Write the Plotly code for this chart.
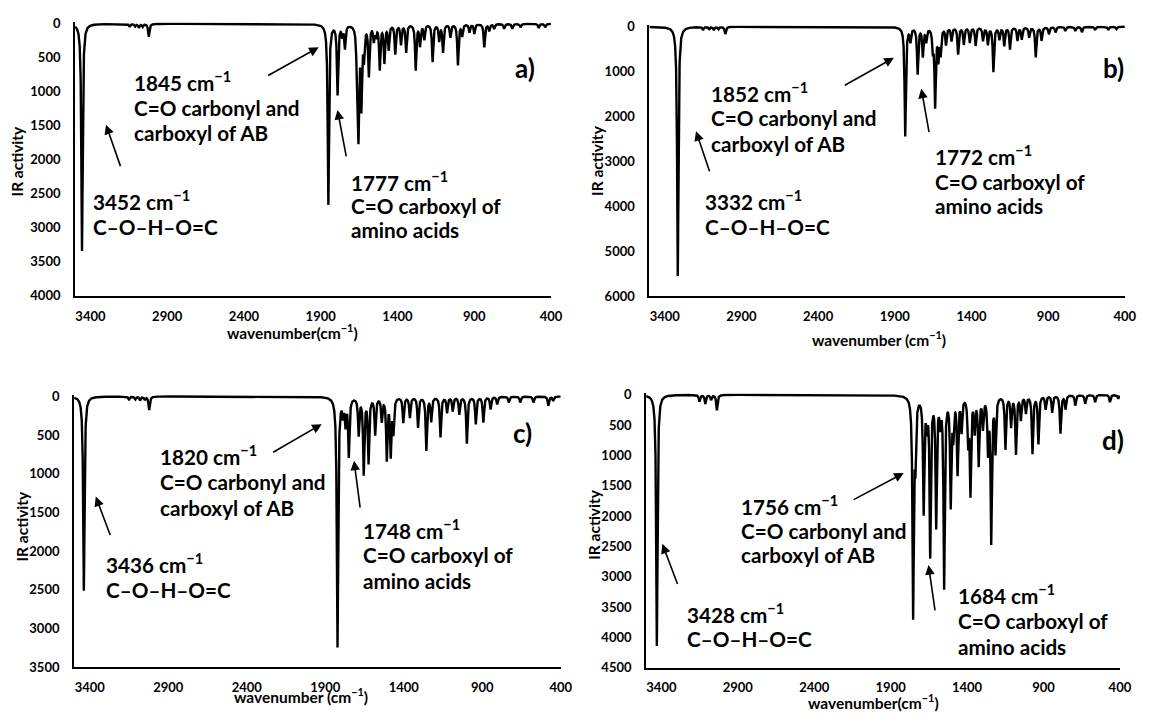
import numpy as np
import plotly.graph_objects as go

# page body has an 8 px margin: design coordinates are reference pixels, shifted by OFF
W, H = 1143, 709
OFF = 8.0

# ---------------- data ----------------
x_tick_vals = [3400, 2900, 2400, 1900, 1400, 900, 400]

a_peak_wn = [3455, 3145, 3110, 3085, 3060, 3020, 1850, 1790, 1760, 1742, 1665, 1654, 1635,
             1618, 1586, 1554, 1540, 1515, 1485, 1457, 1414, 1377, 1343, 1281, 1253, 1225,
             1171, 1128, 1103, 1055, 1006, 978, 931, 899, 834, 802, 770, 705, 652, 598, 480, 437]
a_peak_int = [3340, 45, 35, 55, 40, 190, 2650, 1020, 150, 340, 430, 1600, 1150,
              450, 740, 220, 150, 650, 550, 360, 430, 290, 410, 670, 310, 220,
              550, 240, 410, 190, 600, 170, 120, 140, 340, 100, 70, 70, 70, 50, 60, 50]
a_y_ticks = [0, 500, 1000, 1500, 2000, 2500, 3000, 3500, 4000]

b_peak_wn = [3315, 3150, 3110, 3080, 3050, 3005, 1832, 1798, 1751, 1717, 1695, 1652, 1637,
             1616, 1601, 1566, 1530, 1487, 1450, 1411, 1373, 1325, 1293, 1257, 1218, 1186,
             1149, 1100, 1072, 1024, 981, 943, 895, 852, 788, 723, 680, 594, 508, 455]
b_peak_int = [5550, 60, 50, 70, 50, 160, 2430, 300, 1030, 630, 300, 450, 1720,
              670, 560, 380, 300, 600, 380, 340, 410, 300, 380, 990, 270, 410,
              490, 300, 270, 230, 670, 300, 160, 120, 90, 90, 120, 70, 70, 50]
b_y_ticks = [0, 1000, 2000, 3000, 4000, 5000, 6000]

c_peak_wn = [3438, 3150, 3110, 3080, 3050, 3022, 1822, 1787, 1771, 1750, 1687, 1655, 1624,
             1582, 1540, 1508, 1483, 1466, 1403, 1361, 1309, 1256, 1225, 1166, 1124, 1088,
             1046, 998, 941, 893, 847, 805, 731, 658, 574, 479, 448]
c_peak_int = [2510, 40, 35, 50, 40, 175, 3230, 200, 330, 750, 476, 980, 835,
              476, 300, 793, 729, 434, 329, 265, 392, 687, 308, 518, 202, 181,
              223, 603, 350, 329, 160, 97, 76, 76, 76, 118, 55]
c_y_ticks = [0, 500, 1000, 1500, 2000, 2500, 3000, 3500]

d_peak_wn = [3430, 3151, 3113, 3075, 3037, 1753, 1738, 1684, 1663, 1641, 1602, 1576, 1550,
             1507, 1490, 1462, 1436, 1393, 1378, 1350, 1324, 1296, 1263, 1242, 1214, 1149,
             1112, 1080, 1048, 1015, 972, 933, 886, 843, 789, 756, 692, 627, 562, 465, 411]
d_peak_int = [4140, 110, 145, 80, 253, 3586, 978, 1893, 414, 2592, 2108, 387, 3129,
              1758, 602, 1247, 548, 710, 1570, 548, 1113, 495, 871, 2377, 898, 871,
              495, 952, 387, 280, 952, 790, 226, 280, 629, 226, 172, 145, 118, 118, 65]
d_y_ticks = [0, 500, 1000, 1500, 2000, 2500, 3000, 3500, 4000, 4500]

# ---------------- spectrum broadening ----------------
HWHM = 5.0
grid = np.arange(3500.0, 399.9, -0.5)


def broadened(wn, inten):
    c = np.asarray(wn, float)[:, None]
    s = np.asarray(inten, float)[:, None]
    return (s * HWHM ** 2 / ((grid[None, :] - c) ** 2 + HWHM ** 2)).sum(axis=0)


def PX(x):
    return (x - OFF) / W


def PY(y):
    return 1 - (y - OFF) / H


FONT = "Lato"

panels = [
    dict(wn=a_peak_wn, it=a_peak_int, yt=a_y_ticks, xl=75.8, xr=556.7, yt0=17.0, yb=295.0),
    dict(wn=b_peak_wn, it=b_peak_int, yt=b_y_ticks, xl=656.2, xr=1136.7, yt0=20.0, yb=295.3),
    dict(wn=c_peak_wn, it=c_peak_int, yt=c_y_ticks, xl=74.8, xr=566.6, yt0=397.7, yb=674.3),
    dict(wn=d_peak_wn, it=d_peak_int, yt=d_y_ticks, xl=652.9, xr=1131.7, yt0=396.0, yb=675.0),
]

fig = go.Figure()
layout = dict(width=W, height=H, margin=dict(l=0, r=0, t=0, b=0),
              paper_bgcolor="white", plot_bgcolor="white", showlegend=False)

for i, p in enumerate(panels):
    sfx = "" if i == 0 else str(i + 1)
    ymax = p["yt"][-1]
    upp = ymax / (p["yb"] - p["yt0"])
    fig.add_trace(go.Scatter(x=grid, y=broadened(p["wn"], p["it"]), mode="lines",
                             line=dict(color="black", width=2.4),
                             xaxis="x" + sfx, yaxis="y" + sfx, hoverinfo="skip"))
    layout["xaxis" + sfx] = dict(
        domain=[PX(p["xl"]), PX(p["xr"])], range=[3500, 400], anchor="y" + sfx,
        tickmode="array", tickvals=x_tick_vals, ticks="", showgrid=False, zeroline=False,
        showline=True, linecolor="black", linewidth=2,
        tickfont=dict(family=FONT, size=13, color="black", weight="bold"),
        ticklabelstandoff=7)
    layout["yaxis" + sfx] = dict(
        domain=[PY(p["yb"]), PY(p["yt0"] - 1.5)], range=[ymax, -1.5 * upp], anchor="x" + sfx,
        tickmode="array", tickvals=p["yt"], ticks="", showgrid=False, zeroline=False,
        showline=True, linecolor="black", linewidth=2,
        tickfont=dict(family=FONT, size=13, color="black", weight="bold"),
        ticklabelstandoff=10)

ann = []

text_lines = [
    ("1845 cm<sup>−1</sup>", 133, 75.7), ("C=O carbonyl and", 133, 103), ("carboxyl of AB", 133, 129),
    ("3452 cm<sup>−1</sup>", 92, 198), ("C–O–H–O=C", 92, 225),
    ("1777 cm<sup>−1</sup>", 353, 178), ("C=O carboxyl of", 353, 203), ("amino acids", 353, 228),
    ("1852 cm<sup>−1</sup>", 716.7, 87), ("C=O carbonyl and", 716.7, 113), ("carboxyl of AB", 716.7, 140),
    ("3332 cm<sup>−1</sup>", 710, 198), ("C–O–H–O=C", 710, 225),
    ("1772 cm<sup>−1</sup>", 942.7, 151.7), ("C=O carboxyl of", 942.7, 178.3), ("amino acids", 942.7, 203.3),
    ("1820 cm<sup>−1</sup>", 160, 458.3), ("C=O carbonyl and", 160, 485), ("carboxyl of AB", 160, 511.7),
    ("3436 cm<sup>−1</sup>", 105, 568.3), ("C–O–H–O=C", 105, 595),
    ("1748 cm<sup>−1</sup>", 365, 533.3), ("C=O carboxyl of", 365, 559.3), ("amino acids", 365, 586.7),
    ("1756 cm<sup>−1</sup>", 746.7, 509.3), ("C=O carbonyl and", 746.7, 535), ("carboxyl of AB", 746.7, 560),
    ("3428 cm<sup>−1</sup>", 691.7, 619.3), ("C–O–H–O=C", 691.7, 645),
    ("1684 cm<sup>−1</sup>", 966, 600), ("C=O carboxyl of", 966, 626.7), ("amino acids", 966, 653.3),
]
for t, x, y in text_lines:
    ann.append(dict(text=t, x=PX(x), y=PY(y), xref="paper", yref="paper", xanchor="left",
                    yanchor="middle", showarrow=False,
                    font=dict(family=FONT, size=20.7, color="black", weight="bold")))

arrows = [
    ((270, 70), (322, 41)), ((122, 163), (107, 120)), ((350, 153), (341, 105)),
    ((852.7, 80), (903.3, 51.7)), ((717.3, 168.3), (703.3, 126.7)), ((939, 128.3), (931, 83.3)),
    ((275, 455), (325, 426)), ((111.7, 540), (96.7, 500)), ((364, 511.7), (357.7, 463.3)),
    ((861.7, 503.3), (913.3, 476)), ((685, 590), (669.3, 548.3)), ((945, 616.7), (938.3, 570)),
]
for (tx, ty), (hx, hy) in arrows:
    ann.append(dict(text="", x=PX(hx), y=PY(hy), xref="paper", yref="paper",
                    ax=tx - hx, ay=ty - hy, showarrow=True, arrowhead=2, arrowsize=1.2,
                    arrowwidth=1.6, arrowcolor="black", standoff=0, startstandoff=0))

letters = [("a)", 530, 62), ("b)", 1125, 61.7), ("c)", 528.3, 435), ("d)", 1125, 441.7)]
for t, x, y in letters:
    ann.append(dict(text=t, x=PX(x), y=PY(y), xref="paper", yref="paper", xanchor="center",
                    yanchor="middle", showarrow=False,
                    font=dict(family=FONT, size=26, color="black", weight="bold")))

x_titles = [("wavenumber(cm<sup>−1</sup>)", 296, 331), ("wavenumber (cm<sup>−1</sup>)", 888, 338),
            ("wavenumber (cm<sup>−1</sup>)", 304, 703), ("wavenumber(cm<sup>−1</sup>)", 883, 709)]
for t, x, y in x_titles:
    ann.append(dict(text=t, x=PX(x), y=PY(y), xref="paper", yref="paper", xanchor="center",
                    yanchor="middle", showarrow=False,
                    font=dict(family=FONT, size=15.5, color="black", weight="bold")))

y_titles = [(16.7, 157), (603.3, 157), (21.7, 530), (600, 528)]
for x, y in y_titles:
    ann.append(dict(text="IR activity", x=PX(x), y=PY(y), xref="paper", yref="paper",
                    xanchor="center", yanchor="middle", textangle=-90, showarrow=False,
                    font=dict(family=FONT, size=15.5, color="black", weight="bold")))

layout["annotations"] = ann
fig.update_layout(**layout)
fig.write_html("out.html")
